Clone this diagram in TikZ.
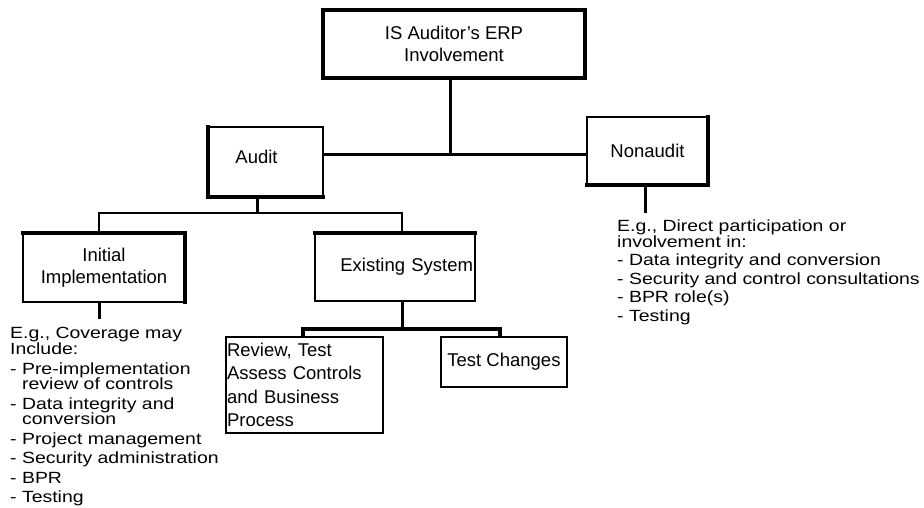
\documentclass[tikz,border=0pt]{standalone}
\usepackage{fontspec}
\setmainfont{Liberation Sans}
\newfontfamily\notefont[FakeStretch=1.2]{Liberation Sans}
\newcommand{\boxfont}{\fontsize{18.5}{22}\selectfont}
\usetikzlibrary{positioning}

\tikzset{
  orgbox/.style={draw, line width=1.5pt, inner sep=0pt, outer sep=0pt, align=center, font=\boxfont},
  boldedge/.style={line width=3.5pt, line cap=rect},
  conn/.style={line width=3pt},
  note/.style={anchor=north west, inner sep=0pt, align=left}
}

\begin{document}
\begin{tikzpicture}[x=1pt, y=-1pt]
      \useasboundingbox (0,0) rectangle (924,507);

      % Define the boxes of the chart
      \node[orgbox, line width=3.5pt, minimum width=262, minimum height=68] (invl) at (454,44)
        {IS Auditor’s ERP\\Involvement};
      \node[orgbox, minimum width=115, minimum height=70,
        label={[font=\boxfont, xshift=-9pt, yshift=5pt]center:Audit}] (audit) at (265.5,162) {};
      \node[orgbox, minimum width=121, minimum height=68] (nonaudit) at (647.5,151) {Nonaudit};
      \node[orgbox, minimum width=162, minimum height=69] (initimpl) at (104,267.5)
        {Initial\\Implementation};
      \node[orgbox, minimum width=160, minimum height=68, text width=156, align=right] (existing) at (395,267)
        {Existing System};
      \node[orgbox, minimum width=157, minimum height=96, text width=155, align=left,
        font=\fontsize{18.5}{23.5}\selectfont] (review) at (304.5,385)
        {Review, Test\\Assess Controls\\and Business\\Process};
      \node[orgbox, minimum width=126, minimum height=50] (testchg) at (504,362) {Test Changes};

      % Heavier sides of the boxes
      \draw[boldedge] (audit.north west) -- (audit.south west) -- (audit.south east);
      \draw[boldedge] (nonaudit.north east) -- (nonaudit.south east) -- (nonaudit.south west);
      \draw[boldedge] (initimpl.north west) -- (initimpl.north east) -- (initimpl.south east);
      \draw[boldedge] (existing.north west) -- (existing.north east);
      \draw[line width=2.5pt] (review.south west) -- (review.south east);

      % Junction points of the connectors
      \coordinate (jtop) at (450,154);
      \coordinate (jaud) at (257,213);
      \coordinate (jleft) at (99,213);
      \coordinate (jright) at (402,213);
      \coordinate (jex) at (402,329);
      \coordinate (jrl) at (303,329);
      \coordinate (jrr) at (500,329);
      \coordinate (initend) at (99,319);
      \coordinate (nonend) at (645,213);

      % Draw the connectors
      \draw[conn] (invl.south -| jtop) -- (jtop);
      \draw[conn] (audit.east |- jtop) -- (nonaudit.west |- jtop);
      \draw[conn] (audit.south -| jaud) -- (jaud);
      \draw[line width=2.5pt] (initimpl.north -| jleft) -- (jleft) -- (jright) -- (existing.north -| jright);
      \draw[conn] (existing.south -| jex) -- (jex);
      \draw[line width=4pt] (review.north -| jrl) -- (jrl) -- (jrr) -- (testchg.north -| jrr);
      \draw[conn] (initimpl.south -| initend) -- (initend);
      \draw[conn] (nonaudit.south -| nonend) -- (nonend);

      % Notes below the boxes
      \node[note, font={\notefont\fontsize{16.2}{19.5}\selectfont}] (initnote) at (10,327)
        {E.g., Coverage may\\[-3.5pt]
         Include:\\
         - Pre-implementation\\[-4pt]
         \hspace*{12pt}review of controls\\
         - Data integrity and\\[-4pt]
         \hspace*{12pt}conversion\\
         - Project management\\
         - Security administration\\
         - BPR\\
         - Testing};
      \node[note, font={\notefont\fontsize{16.2}{18.5}\selectfont}] (nonnote) at (617,220)
        {E.g., Direct participation or\\[-3pt]
         involvement in:\\
         - Data integrity and conversion\\
         - Security and control consultations\\
         - BPR role(s)\\
         - Testing};
\end{tikzpicture}
\end{document}
